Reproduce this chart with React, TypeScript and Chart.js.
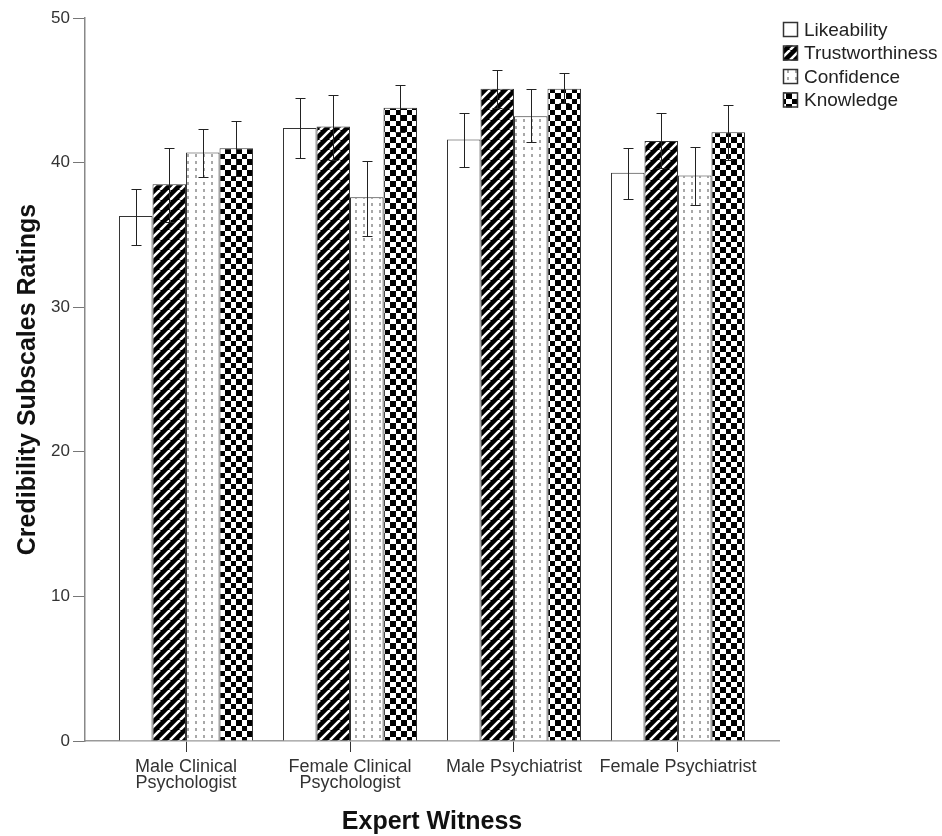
import React, { useEffect, useRef } from 'react';
import { Chart, registerables } from 'chart.js';
Chart.register(...registerables);

const categories = ['Male Clinical Psychologist', 'Female Clinical Psychologist', 'Male Psychiatrist', 'Female Psychiatrist'];
const tickLabels: (string | string[])[] = [['Male Clinical', 'Psychologist'], ['Female Clinical', 'Psychologist'], 'Male Psychiatrist', 'Female Psychiatrist'];
const seriesNames = ['Likeability', 'Trustworthiness', 'Confidence', 'Knowledge'];

const likeability = [36.3, 42.4, 41.6, 39.3];
const trustworthiness = [38.5, 42.5, 45.1, 41.5];
const confidence = [40.7, 37.6, 43.2, 39.1];
const knowledge = [41.0, 43.8, 45.1, 42.1];

const likeabilityLow = [34.3, 40.3, 39.7, 37.5];
const likeabilityHigh = [38.2, 44.5, 43.4, 41.0];
const trustworthinessLow = [35.9, 40.2, 43.8, 39.6];
const trustworthinessHigh = [41.0, 44.7, 46.4, 43.4];
const confidenceLow = [39.0, 34.9, 41.4, 37.1];
const confidenceHigh = [42.3, 40.1, 45.1, 41.1];
const knowledgeLow = [39.1, 42.1, 44.1, 40.2];
const knowledgeHigh = [42.9, 45.4, 46.2, 44.0];

const yTicks = [0, 10, 20, 30, 40, 50];

const seriesValues = [likeability, trustworthiness, confidence, knowledge];
const seriesLow = [likeabilityLow, trustworthinessLow, confidenceLow, knowledgeLow];
const seriesHigh = [likeabilityHigh, trustworthinessHigh, confidenceHigh, knowledgeHigh];

const FONT = 'Arial, "Liberation Sans", sans-serif';

function makeTile(w: number, h: number, draw: (c: CanvasRenderingContext2D) => void): CanvasPattern | string {
  const cv = document.createElement('canvas');
  cv.width = w;
  cv.height = h;
  const c = cv.getContext('2d')!;
  draw(c);
  const ctx = document.createElement('canvas').getContext('2d')!;
  return ctx.createPattern(cv, 'repeat') || '#888';
}

function makePatterns() {
  const plain = '#ffffff';
  const stripes = makeTile(10, 10, (c) => {
    c.fillStyle = '#000';
    c.fillRect(0, 0, 10, 10);
    c.strokeStyle = '#fff';
    c.lineWidth = 2.6;
    c.beginPath();
    for (const k of [-10, 0, 10]) {
      c.moveTo(k, 10);
      c.lineTo(k + 10, 0);
    }
    c.stroke();
  });
  const dots = makeTile(8, 7, (c) => {
    c.fillStyle = '#fff';
    c.fillRect(0, 0, 8, 7);
    c.fillStyle = '#a8a8a8';
    c.fillRect(3, 0, 2, 3);
  });
  const checker = makeTile(11, 11, (c) => {
    c.fillStyle = '#fff';
    c.fillRect(0, 0, 11, 11);
    c.fillStyle = '#000';
    c.fillRect(0, 0, 5, 5);
    c.fillRect(5, 5, 6, 6);
  });
  return [plain, stripes, dots, checker];
}

const errorBarPlugin = {
  id: 'errorBars',
  afterDatasetsDraw(chart: any) {
    const { ctx, scales } = chart;
    const y = scales.y;
    ctx.save();
    ctx.strokeStyle = '#222';
    ctx.lineWidth = 1;
    chart.data.datasets.forEach((ds: any, di: number) => {
      const meta = chart.getDatasetMeta(di);
      meta.data.forEach((bar: any, i: number) => {
        const x = Math.round(bar.x) + 0.5;
        const yh = Math.round(y.getPixelForValue(seriesHigh[di][i])) + 0.5;
        const yl = Math.round(y.getPixelForValue(seriesLow[di][i])) + 0.5;
        ctx.beginPath();
        ctx.moveTo(x, yh);
        ctx.lineTo(x, yl);
        ctx.moveTo(x - 5, yh);
        ctx.lineTo(x + 5, yh);
        ctx.moveTo(x - 5, yl);
        ctx.lineTo(x + 5, yl);
        ctx.stroke();
      });
    });
    ctx.restore();
  },
};

const legendPlugin = {
  id: 'customLegend',
  afterDraw(chart: any) {
    const { ctx, chartArea } = chart;
    ctx.save();
    const x0 = chartArea.right + 4;
    const y0 = 22;
    chart.data.datasets.forEach((ds: any, i: number) => {
      const by = y0 + i * 23.5;
      ctx.fillStyle = ds.backgroundColor;
      ctx.fillRect(x0, by, 15, 15);
      ctx.strokeStyle = '#333';
      ctx.lineWidth = 1.5;
      ctx.strokeRect(x0 + 0.5, by + 0.5, 14, 14);
      ctx.fillStyle = '#222';
      ctx.font = `19px ${FONT}`;
      ctx.textBaseline = 'middle';
      ctx.textAlign = 'left';
      ctx.fillText(ds.label, x0 + 21, by + 8.5);
    });
    ctx.restore();
  },
};

export default function App() {
  const ref = useRef<HTMLCanvasElement>(null);
  useEffect(() => {
    if (!ref.current) return;
    const fills = makePatterns();
    const chart = new Chart(ref.current, {
      type: 'bar',
      data: {
        datasets: seriesNames.map((name, si) => ({
          label: name,
          data: seriesValues[si].map((v, i) => ({ x: i, y: v })),
          backgroundColor: fills[si] as any,
          borderColor: '#333',
          borderWidth: 1,
          categoryPercentage: 134 / 164,
          barPercentage: 1,
        })),
      },
      options: {
        responsive: false,
        animation: false,
        layout: { padding: { top: 18, right: 163, left: 0, bottom: 0 } },
        plugins: { legend: { display: false }, tooltip: { enabled: false } },
        scales: {
          x: {
            type: 'linear',
            offset: false,
            min: -0.616,
            max: 3.616,
            afterBuildTicks: (scale: any) => {
              scale.ticks = categories.map((_, i) => ({ value: i }));
            },
            afterFit: (scale: any) => {
              scale.height = 95;
            },
            ticks: {
              autoSkip: false,
              maxRotation: 0,
              minRotation: 0,
              padding: 7,
              color: '#333',
              font: { family: FONT, size: 18, lineHeight: '16px' } as any,
              callback: (v: any) => tickLabels[v as number] ?? '',
            },
            grid: {
              display: true,
              offset: false,
              drawOnChartArea: false,
              drawTicks: true,
              tickLength: 11,
              color: '#333',
            },
            border: { display: true, color: '#999', width: 1.5 },
            title: {
              display: true,
              text: 'Expert Witness',
              color: '#111',
              font: { family: FONT, size: 25, weight: 'bold', lineHeight: 1.1 },
              padding: { top: 0, bottom: 0 },
            },
          },
          y: {
            min: 0,
            max: 50,
            afterBuildTicks: (scale: any) => {
              scale.ticks = yTicks.map((v) => ({ value: v }));
            },
            afterFit: (scale: any) => {
              scale.width = 85;
            },
            ticks: {
              padding: 3,
              color: '#333',
              font: { family: FONT, size: 17 },
            },
            grid: {
              display: true,
              drawOnChartArea: false,
              drawTicks: true,
              tickLength: 12,
              color: '#777',
            },
            border: { display: true, color: '#888', width: 1.5 },
            title: {
              display: true,
              text: 'Credibility Subscales Ratings',
              color: '#111',
              font: { family: FONT, size: 25, weight: 'bold' },
              padding: { top: 13, bottom: 0 },
            },
          },
        },
      },
      plugins: [errorBarPlugin, legendPlugin],
    } as any);
    return () => chart.destroy();
  }, []);
  return (
    <div style={{ position: 'absolute', left: 0, top: 0, width: 942, height: 836, background: '#fff' }}>
      <canvas ref={ref} width={942} height={836} style={{ display: 'block' }} />
    </div>
  );
}
